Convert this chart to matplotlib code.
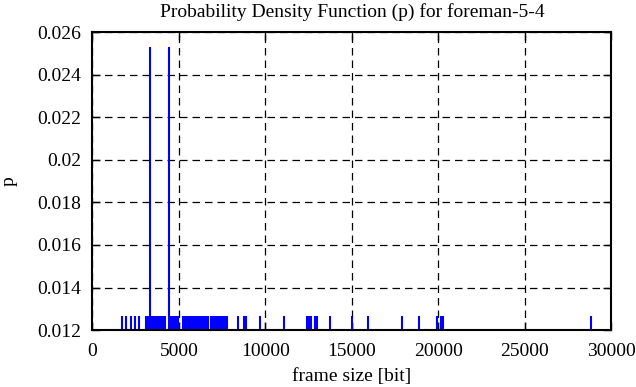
import matplotlib
matplotlib.use("Agg")
import matplotlib.pyplot as plt
import numpy as np

# frame sizes [bit] seen in the trace, and how often each occurs
frame_sizes = [
    1700, 1950, 2230, 2450, 2680,
    3120, 3180, 3240, 3330, 3390, 3450, 3520, 3590,
    3740, 3800, 3860, 3930, 3990, 4060, 4120, 4180,
    4400,
    4500, 4560, 4630, 4700, 4770, 4840, 4950,
    5240, 5300, 5380, 5460, 5530, 5600, 5680, 5790,
    5950, 6020, 6100, 6170, 6250, 6320,
    6470, 6540, 6620, 6700,
    6870, 6950, 7030, 7100,
    7220, 7300, 7370,
    7510, 7580, 7650, 7800,
    8430, 8770, 8890, 9700, 11070,
    12420, 12540, 12650, 12890, 13000, 13750,
    15030, 15960, 17920, 18900, 19950, 20150, 20280, 28830,
]
counts = [1] * len(frame_sizes)
counts[frame_sizes.index(3330)] = 2
counts[frame_sizes.index(4400)] = 2

x_ticks = [0, 5000, 10000, 15000, 20000, 25000, 30000]
y_ticks = [0.012, 0.014, 0.016, 0.018, 0.02, 0.022, 0.024, 0.026]
y_labels = ["0.012", "0.014", "0.016", "0.018", "0.02", "0.022", "0.024", "0.026"]

p = np.array(counts) / sum(counts)

plt.rcParams['font.family'] = ['Liberation Serif', 'DejaVu Serif']
plt.rcParams['font.size'] = 14

fig = plt.figure(figsize=(6.36, 3.87), dpi=100)
ax = fig.add_axes([0.1454, 0.147, 0.8156, 0.770])

ax.vlines(frame_sizes, 0, p, color='blue', lw=1.5)

ax.set_xlim(0, 30000)
ax.set_ylim(0.012, 0.026)
ax.set_xticks(x_ticks)
ax.set_yticks(y_ticks)
ax.set_yticklabels(y_labels)
ax.tick_params(direction='in', length=6, width=1, top=True, right=True)
ax.tick_params(axis='x', pad=9)
ax.tick_params(axis='y', pad=8)
ax.grid(True, color='black', linestyle=(0, (6, 4)), linewidth=0.9)
for s in ax.spines.values():
    s.set_linewidth(1.5)

ax.set_xlabel('frame size [bit]', labelpad=6)
ax.set_ylabel('p', labelpad=14)
ax.set_title('Probability Density Function (p) for foreman-5-4', fontsize=14, pad=11)

fig.savefig("out.png", dpi=100)
